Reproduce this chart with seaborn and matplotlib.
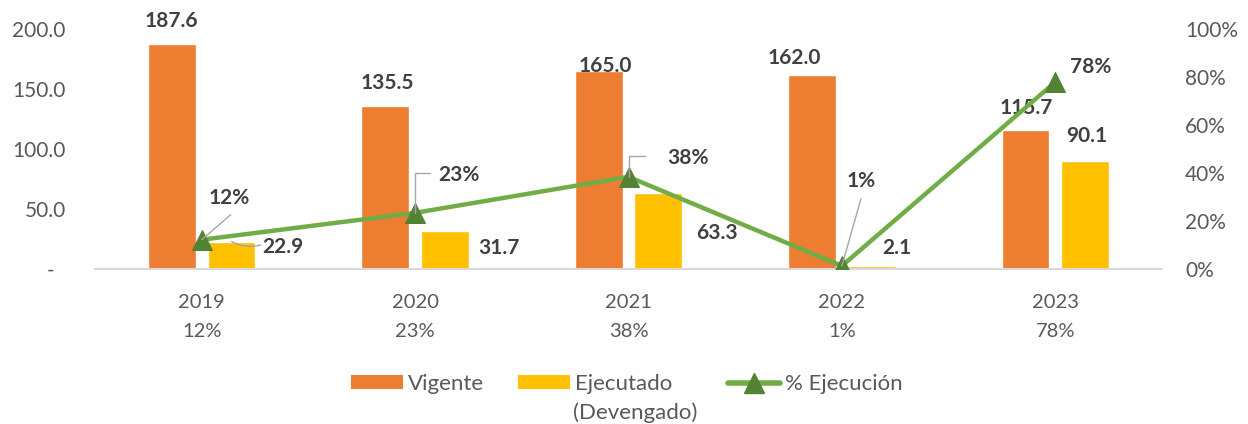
import numpy as np
import pandas as pd
import matplotlib
matplotlib.use("Agg")
import matplotlib.pyplot as plt
from matplotlib.patches import Patch
from matplotlib.lines import Line2D
import seaborn as sns

# ---------------- data ----------------
years = ["2019", "2020", "2021", "2022", "2023"]
vigente = [187.6, 135.5, 165.0, 162.0, 115.7]
ejecutado = [22.9, 31.7, 63.3, 2.1, 90.1]
pct_ejec = [0.122, 0.234, 0.384, 0.013, 0.779]
pct_labels = ["12%", "23%", "38%", "1%", "78%"]
series = ["Vigente", "Ejecutado"]
y_ticks = [0, 50, 100, 150, 200]
y_ticklabels = ["-  ", "50.0", "100.0", "150.0", "200.0"]
y2_ticks = [0, 0.2, 0.4, 0.6, 0.8, 1.0]
y2_ticklabels = ["0%", "20%", "40%", "60%", "80%", "100%"]

# ---------------- style ----------------
sns.set_theme(style="white")
plt.rcParams["font.family"] = ["Lato", "DejaVu Sans"]

C_VIG = "#ED7D31"
C_EJE = "#FFC000"
C_LINE = "#70AD47"
C_MARK = "#548235"
C_TICK = "#595959"
C_LBL = "#404040"
C_LEAD = "#A6A6A6"

df = pd.DataFrame({
    "Año": years * 2,
    "Monto": vigente + ejecutado,
    "Serie": [series[0]] * len(years) + [series[1]] * len(years),
})

fig = plt.figure(figsize=(12.48, 4.24), dpi=100)
ax = fig.add_axes([95 / 1248, 1 - 269 / 424, (1162 - 95) / 1248, 240 / 424])

sns.barplot(data=df, x="Año", y="Monto", hue="Serie", order=years,
            hue_order=series, palette=[C_VIG, C_EJE], width=0.56, gap=0.2,
            saturation=1, legend=False, ax=ax)

ax.set_xlim(-0.5, len(years) - 0.5)
ax.set_ylim(0, 200)
ax.set_yticks(y_ticks)
ax.set_yticklabels(y_ticklabels)
ax.set_xticks(range(len(years)))
ax.set_xticklabels([f"{y}\n{p}" for y, p in zip(years, pct_labels)],
                   linespacing=1.85)
ax.set_xlabel("")
ax.set_ylabel("")
ax.tick_params(axis="y", length=0, pad=21, labelsize=15, labelcolor=C_TICK)
ax.tick_params(axis="x", length=0, pad=18, labelsize=14.5, labelcolor=C_TICK)
for s in ["top", "right", "left"]:
    ax.spines[s].set_visible(False)
ax.spines["bottom"].set_color("#D9D9D9")
ax.spines["bottom"].set_linewidth(1.5)

# bar labels (offsets in points from bar tops)
px = 0.72
vig_off = [(0, 23), (2, 23), (7, 5), (-18, 17), (1, 22)]
eje_off = [(51, -5.5), (54, -17), (59, -40), (25, 18.5), (2, 25)]
for cont, vals, offs in zip(ax.containers, [vigente, ejecutado], [vig_off, eje_off]):
    bars = sorted(cont.patches, key=lambda b: b.get_x())
    for b, v, (dx, dy) in zip(bars, vals, offs):
        xc = b.get_x() + b.get_width() / 2
        ax.annotate(f"{v:.1f}", (xc, b.get_height()), xytext=(dx * px, dy * px),
                    textcoords="offset points", ha="center", va="center",
                    fontsize=15, fontweight="bold", color=C_LBL, zorder=5)

# small leader for 22.9
b0 = sorted(ax.containers[1].patches, key=lambda b: b.get_x())[0]
ax.annotate("", xy=(b0.get_x() + b0.get_width() / 2, ejecutado[0]),
            xytext=(29 * px, -3.5 * px), textcoords="offset points",
            arrowprops=dict(arrowstyle="-", color=C_LEAD, lw=1,
                            shrinkA=0, shrinkB=0,
                            connectionstyle="arc3,rad=-0.2"))

# line on secondary axis
ax2 = ax.twinx()
sns.lineplot(x=np.arange(len(years)), y=pct_ejec, ax=ax2, color=C_LINE,
             linewidth=3.2, marker="^", markersize=14,
             markerfacecolor=C_MARK, markeredgecolor=C_MARK, legend=False)
ax2.set_xlim(-0.5, len(years) - 0.5)
ax2.set_ylim(0, 1.0)
ax2.set_yticks(y2_ticks)
ax2.set_yticklabels(y2_ticklabels)
ax2.tick_params(axis="y", length=0, pad=16.5, labelsize=15, labelcolor=C_TICK)
for s in ["top", "right", "left", "bottom"]:
    ax2.spines[s].set_visible(False)
ax2.grid(False)
ax.grid(False)

pct_off = [(28, 42), (44, 38), (60, 19), (19, 85), (35, 15)]
for i, (p, lab, (dx, dy)) in enumerate(zip(pct_ejec, pct_labels, pct_off)):
    ax2.annotate(lab, (i, p), xytext=(dx * px, dy * px), textcoords="offset points",
                 ha="center", va="center", fontsize=15, fontweight="bold",
                 color=C_LBL, zorder=6)

# leader lines for percentage labels
leaders = [
    (0, (29, 25), "arc3,rad=0"),
    (1, (15, 40), "angle,angleA=0,angleB=90,rad=0"),
    (2, (16, 21), "angle,angleA=0,angleB=90,rad=0"),
    (3, (19, 67), "arc3,rad=0"),
]
for i, (dx, dy), cs in leaders:
    ax2.annotate("", xy=(i, pct_ejec[i]), xytext=(dx * px, dy * px),
                 textcoords="offset points",
                 arrowprops=dict(arrowstyle="-", color=C_LEAD, lw=1,
                                 shrinkA=0, shrinkB=0, connectionstyle=cs),
                 zorder=4)

# legend
handles = [
    Patch(facecolor=C_VIG, edgecolor="none"),
    Patch(facecolor=C_EJE, edgecolor="none"),
    Line2D([0], [0], color=C_LINE, lw=4, marker="^", markersize=15,
           markerfacecolor=C_MARK, markeredgecolor=C_MARK),
]
labels = ["Vigente", "Ejecutado    ", "% Ejecución"]
fig.legend(handles, labels, loc="center left",
           bbox_to_anchor=(351 / 1248, 1 - 384 / 424), ncol=3, frameon=False,
           fontsize=16, labelcolor=C_TICK, handlelength=2.34, handleheight=0.59,
           handletextpad=0.23, columnspacing=1.5, borderpad=0, borderaxespad=0)
fig.text(573 / 1248, 1 - 413 / 424, "(Devengado)", fontsize=16, color=C_TICK,
         ha="left", va="center")

fig.savefig("out.png", dpi=100)
